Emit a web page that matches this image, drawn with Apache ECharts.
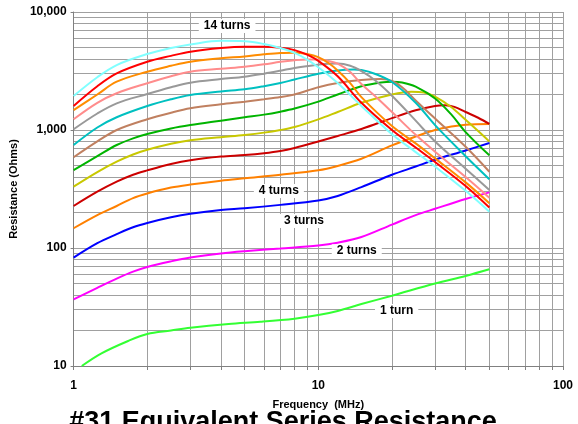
<!DOCTYPE html>
<html>
<head>
<meta charset="utf-8">
<script src="https://cdn.jsdelivr.net/npm/echarts@6/dist/echarts.min.js"></script>
<style>
  html, body { margin: 0; padding: 0; background: #fff; }
  #chart { width: 578px; height: 424px; }
</style>
</head>
<body>
<div id="chart"></div>
<script>
// Equivalent series resistance of toroid windings, 1 to 14 turns.
// Each series: [frequency MHz, resistance Ohms]
const turns1  = [[1.08,10],[1.3,12.8],[1.67,16.3],[2,18.7],[2.5,20],[3,21.1],[4.3,22.7],[5.8,23.7],[8,25.2],[10,27],[12,29.3],[15,33.5],[20,39.4],[30,50],[40,58],[50,66]];
const turns2  = [[1,36.7],[1.25,46],[1.5,55],[1.75,63],[2,69],[2.5,77],[3,83],[4,90],[5,94],[7,99],[10,105],[12,111],[15,124],[20,158],[25,190],[30,215],[40,260],[50,296]];
const turns3  = [[1,83],[1.25,110],[1.5,131],[1.75,150],[2,163],[2.5,182],[3,195],[4,210],[5,217],[7,232],[10,253],[12,276],[15,328],[20,418],[25,490],[30,560],[40,670],[50,775]];
const turns4  = [[1,147],[1.25,190],[1.5,227],[1.75,265],[2,290],[2.5,325],[3,345],[4,372],[5,390],[7,418],[10,456],[12,496],[15,570],[20,740],[25,880],[30,1000],[35,1070],[40,1110],[50,1125]];
const turns5  = [[1,227],[1.25,300],[1.5,365],[1.75,418],[2,455],[2.5,515],[3,555],[4,595],[5,614],[6,636],[7,664],[8,705],[10,800],[12,890],[15,1020],[20,1260],[25,1470],[30,1600],[33,1620],[36,1570],[40,1420],[45,1270],[50,1125]];
const turns6  = [[1,331],[1.25,440],[1.5,539],[1.75,620],[2,680],[2.5,765],[3,820],[4,870],[5,908],[6,950],[7,1000],[8,1060],[10,1230],[12,1420],[15,1700],[20,2000],[24,2110],[27,2080],[30,1920],[35,1560],[40,1220],[45,980],[50,800]];
const turns7  = [[1,458],[1.25,600],[1.5,746],[1.75,850],[2,925],[2.5,1030],[3,1101],[4,1200],[5,1282],[6,1350],[7,1430],[8,1520],[10,1740],[12,2000],[15,2350],[18,2530],[20,2570],[22,2530],[25,2330],[30,1850],[35,1350],[40,960],[50,610]];
const turns8  = [[1,587],[1.25,800],[1.5,1000],[2,1233],[2.5,1400],[3,1527],[4,1650],[5,1738],[6,1820],[7,1900],[8,2000],[10,2300],[12,2500],[15,2650],[18,2700],[20,2600],[22,2300],[25,1780],[30,1250],[40,720],[50,443]];
const turns9  = [[1,746],[1.25,1050],[1.5,1282],[2,1596],[2.5,1820],[3,1981],[4,2120],[5,2213],[6,2350],[7,2500],[8,2680],[10,3000],[12,3200],[14,3250],[15,3220],[17,3000],[20,2550],[25,1700],[30,1100],[40,600],[50,383]];
const turns10 = [[1,1014],[1.25,1380],[1.5,1683],[2,2018],[2.5,2300],[3,2518],[4,2700],[5,2830],[6,3000],[7,3180],[8,3360],[10,3580],[11,3650],[12,3660],[13.5,3500],[15,3150],[17,2650],[20,1950],[25,1200],[30,800],[40,470],[50,310]];
const turns11 = [[1,1233],[1.25,1700],[1.5,2050],[2,2490],[2.5,2850],[3,3119],[4,3300],[5,3434],[6,3600],[7,3780],[8,3900],[9,3960],[10,3960],[11,3850],[12,3650],[13.5,3100],[15,2450],[17,1950],[20,1420],[25,910],[30,655],[40,400],[50,267]];
const turns12 = [[1,1476],[1.25,2000],[1.5,2566],[2,3119],[2.5,3500],[3,3793],[4,4050],[5,4200],[6,4380],[7,4500],[8,4520],[9,4400],[10,4150],[11,3700],[12,3200],[13.5,2500],[15,1900],[20,1080],[25,770],[30,575],[40,360],[50,240]];
const turns13 = [[1,1600],[1.25,2350],[1.5,3020],[2,3790],[2.5,4250],[3,4610],[4,4950],[5,5080],[6,5080],[7,4980],[8,4750],[9,4350],[10,3850],[12,2850],[15,1700],[20,1000],[25,710],[30,535],[40,335],[50,220]];
const turns14 = [[1,1940],[1.25,2800],[1.5,3550],[2,4400],[2.5,4950],[3,5300],[4,5700],[5,5650],[6,5350],[7,4950],[8,4500],[9,3950],[10,3400],[12,2500],[15,1600],[20,920],[25,650],[30,490],[40,305],[50,203]];

const seriesData = [turns1, turns2, turns3, turns4, turns5, turns6, turns7,
                    turns8, turns9, turns10, turns11, turns12, turns13, turns14];
const seriesNames = ['1 turn','2 turns','3 turns','4 turns','5 turns','6 turns','7 turns',
                     '8 turns','9 turns','10 turns','11 turns','12 turns','13 turns','14 turns'];
const seriesColors = ['#33ff33','#ff00ff','#0000ff','#ff8000','#cc0000','#c8c800','#00b400',
                      '#c08060','#00c0c0','#999999','#ff8c8c','#ff8c00','#ff0000','#80ffff'];

const xTicks = [1, 10, 100];
const yTicks = [10, 100, 1000, 10000];

const FONT = '"Liberation Sans", Arial, sans-serif';

const chart = echarts.init(document.getElementById('chart'), null, { renderer: 'canvas' });

const gridColor = '#a0a0a0';

const option = {
  animation: false,
  backgroundColor: '#ffffff',
  grid: { left: 72, right: 15, top: 12, bottom: 58, containLabel: false },
  xAxis: {
    type: 'log', logBase: 10, min: 1, max: 100,
    name: 'Frequency  (MHz)', nameLocation: 'middle', nameGap: 33,
    nameTextStyle: { fontFamily: FONT, fontWeight: 'bold', fontSize: 11, color: '#000' },
    axisLine: { show: true, lineStyle: { color: '#808080', width: 1 } },
    axisTick: { show: true, length: 4, lineStyle: { color: '#808080' } },
    minorTick: { show: true, splitNumber: 9, length: 4, lineStyle: { color: '#808080' } },
    axisLabel: {
      fontFamily: FONT, fontWeight: 'bold', fontSize: 12, color: '#000', margin: 14,
      formatter: v => (xTicks.includes(Math.round(v)) ? String(Math.round(v)) : '')
    },
    splitLine: { show: true, lineStyle: { color: gridColor, width: 1 } },
    minorSplitLine: { show: true, lineStyle: { color: gridColor, width: 1 } }
  },
  yAxis: {
    type: 'log', logBase: 10, min: 10, max: 10000,
    name: 'Resistance (Ohms)', nameLocation: 'middle', nameGap: 42, nameRotate: 90,
    nameTextStyle: { fontFamily: FONT, fontWeight: 'bold', fontSize: 11, color: '#000' },
    axisLine: { show: true, lineStyle: { color: '#808080', width: 1 } },
    axisTick: { show: true, length: 3, lineStyle: { color: '#808080' } },
    minorTick: { show: false, splitNumber: 9 },
    axisLabel: {
      fontFamily: FONT, fontWeight: 'bold', fontSize: 12, color: '#000', margin: 7,
      formatter: v => {
        const r = Math.round(v);
        return yTicks.includes(r) ? r.toLocaleString('en-US') : '';
      }
    },
    splitLine: { show: true, lineStyle: { color: gridColor, width: 1 } },
    minorSplitLine: { show: true, lineStyle: { color: gridColor, width: 1 } }
  },
  series: seriesData.map((d, i) => ({
    name: seriesNames[i],
    type: 'line',
    data: d,
    smooth: 0.35,
    showSymbol: false,
    symbol: 'none',
    lineStyle: { color: seriesColors[i], width: 2 },
    itemStyle: { color: seriesColors[i] },
    z: 2 + i
  })),
  graphic: [
    { type: 'text', x: 283, y: 409, z: 100,
      style: { text: '#31 Equivalent Series Resistance', font: 'bold 27px ' + FONT, fill: '#000',
               align: 'center', verticalAlign: 'top' } }
  ]
};

chart.setOption(option);

// Curve labels, placed at data coordinates on white boxes
const curveLabels = [
  { text: '14 turns', at: [4.24, 7600] },
  { text: '4 turns',  at: [6.9, 304] },
  { text: '3 turns',  at: [8.74, 169] },
  { text: '2 turns',  at: [14.36, 94] },
  { text: '1 turn',   at: [20.9, 29.3] }
];
const labelGraphics = curveLabels.map(l => {
  const p = chart.convertToPixel({ gridIndex: 0 }, l.at);
  return {
    type: 'text', x: p[0], y: p[1], z: 100,
    style: {
      text: l.text, font: 'bold 12px ' + FONT, fill: '#000',
      align: 'center', verticalAlign: 'middle',
      backgroundColor: '#ffffff', padding: [1, 5]
    }
  };
});
chart.setOption({ graphic: option.graphic.concat(labelGraphics) });
</script>
</body>
</html>
